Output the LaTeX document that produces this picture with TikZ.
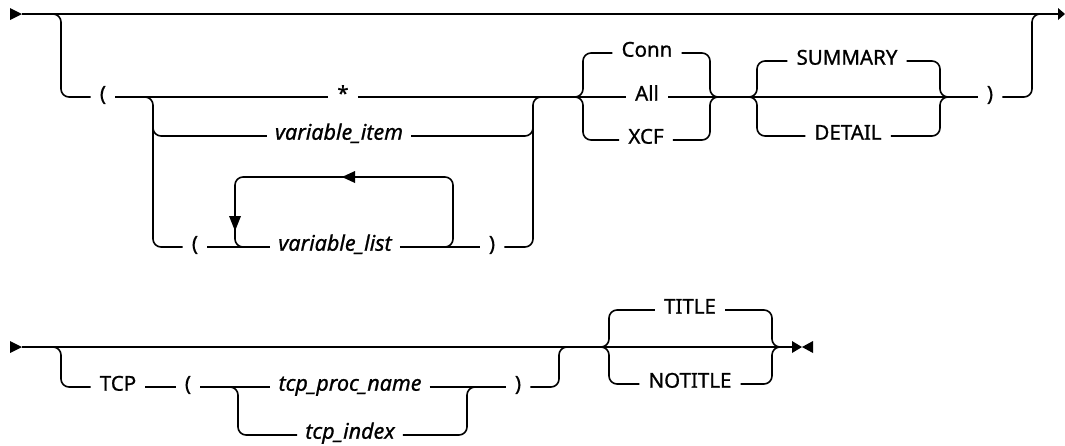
\documentclass[tikz,border=0pt]{standalone}
\usepackage{fontspec}
\setmainfont{Noto Sans}[FakeBold=0.9]
\usetikzlibrary{arrows.meta}
\begin{document}
\begin{tikzpicture}[x=1pt,y=-1pt,
  rail/.style={line width=1.6pt, rounded corners=8pt},
  lbl/.style={inner xsep=9pt, inner ysep=0pt, text height=0.74em, text depth=0pt, font=\fontsize{20.5}{20}\selectfont},
  var/.style={lbl, inner xsep=8pt, font=\fontsize{21.5}{20}\selectfont\itshape}]
\useasboundingbox (0,0) rectangle (1065,445);
% ---------- row 1 ----------
\coordinate (s1) at (22,14);
\coordinate (e1) at (1065,14);
\fill (10,8) -- (s1) -- (10,20) -- cycle;
\draw[rail] (s1) -- (1059,14);
\fill (1058,8) -- (e1) -- (1058,20) -- cycle;
\node[lbl] (lp1) at (103,97) {(};
\node[lbl] (star) at (343,97) {*};
\node[var] (vi) at (339,136) {variable\_item};
\node[lbl] (lp2) at (195,247) {(};
\node[var] (vl) at (335,247) {variable\_list};
\node[lbl] (rp2) at (492,247) {)};
\node[lbl] (conn) at (647,53) {Conn};
\node[lbl] (all) at (647,97) {All};
\node[lbl] (xcf) at (646,140) {XCF};
\node[lbl] (summ) at (847,61) {SUMMARY};
\node[lbl] (det) at (848,136) {DETAIL};
\node[lbl] (rp3) at (990,97) {)};
\draw[rail] (52,14) -| (61,97) -- (lp1);
\draw[rail] (lp1) -- (star);
\draw[rail] (star) -- (all);
\draw[rail] (all) -- (rp3);
\draw[rail] (145,97) -| (153,247) -- (lp2);
\draw[rail] (153,120) |- (vi);
\draw[rail] (lp2) -- (vl);
\draw[rail] (vl) -- (rp2);
\draw[rail] (437,247) -| (453,177) -| (235,247) -- (251,247);
\fill (342,177) -- (355,171) -- (355,183) -- cycle;
\fill (235,231) -- (229,216) -- (241,216) -- cycle;
\draw[rail] (vi) -| (533,120);
\draw[rail] (rp2) -| (533,97) -- (541,97);
\draw[rail] (conn) -| (583,97) -- (575,97);
\draw[rail] (xcf) -| (583,97) -- (575,97);
\draw[rail] (conn) -| (710,97) -- (718,97);
\draw[rail] (xcf) -| (710,97) -- (718,97);
\draw[rail] (summ) -| (757,97) -- (749,97);
\draw[rail] (det) -| (757,97) -- (749,97);
\draw[rail] (summ) -| (940,97) -- (948,97);
\draw[rail] (det) -| (940,97) -- (948,97);
\draw[rail] (rp3) -| (1032,14) -- (1040,14);
% ---------- row 2 ----------
\coordinate (s2) at (22,347);
\coordinate (e2) at (792,347);
\fill (10,341) -- (s2) -- (10,353) -- cycle;
\node[lbl] (tcp) at (118,387) {TCP};
\node[lbl] (lp3) at (188,387) {(};
\node[var] (tpn) at (350,387) {tcp\_proc\_name};
\node[var] (tix) at (350,435) {tcp\_index};
\node[lbl] (rp4) at (518,387) {)};
\node[lbl] (title) at (690,310) {TITLE};
\node[lbl] (notitle) at (690,384) {NOTITLE};
\draw[rail] (s2) -- (e2);
\fill (792,341) -- (802,347) -- (792,353) -- cycle;
\fill (813,341) -- (802,347) -- (813,353) -- cycle;
\draw[rail] (52,347) -| (61,387) -- (tcp);
\draw[rail] (tcp) -- (lp3);
\draw[rail] (lp3) -- (tpn);
\draw[rail] (tpn) -- (rp4);
\draw[rail] (228,387) -| (238,435) -- (tix);
\draw[rail] (tix) -| (467,387) -- (475,387);
\draw[rail] (rp4) -| (559,347) -- (567,347);
\draw[rail] (title) -| (609,347) -- (601,347);
\draw[rail] (notitle) -| (609,347) -- (601,347);
\draw[rail] (title) -| (772,347) -- (780,347);
\draw[rail] (notitle) -| (772,347) -- (780,347);
\end{tikzpicture}
\end{document}
